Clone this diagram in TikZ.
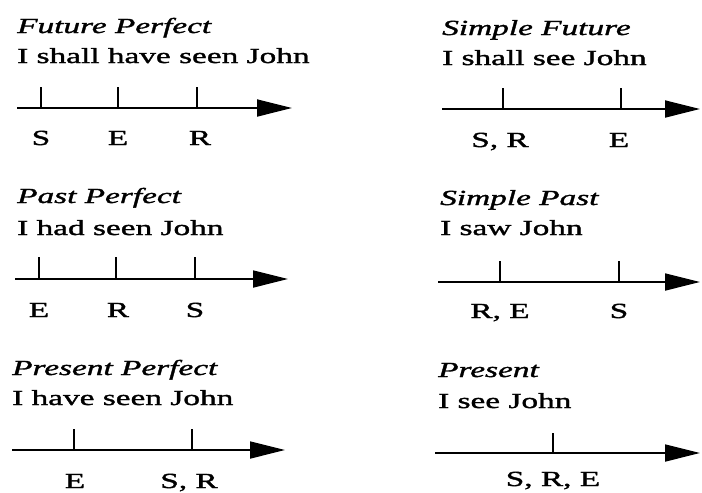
\documentclass[tikz,border=0pt]{standalone}
\usepackage{fontspec}
\setmainfont[FakeStretch=1.55,FakeBold=1.6]{Liberation Serif}
\usetikzlibrary{arrows.meta}
\tikzset{
  txt/.style={inner sep=0pt, anchor=base west, font=\fontsize{21.5}{26}\selectfont},
  ttl/.style={txt, font=\fontsize{21.5}{26}\selectfont\itshape},
  lbl/.style={inner sep=0pt, anchor=base, font=\fontsize{21.5}{26}\selectfont},
  axis/.style={line width=1.8pt, -{Triangle[length=35pt,width=17pt]}},
  tick/.style={line width=1.8pt}
}
\begin{document}
\begin{tikzpicture}[x=1pt,y=-1pt]
\useasboundingbox (0,0) rectangle (702,493);
% Panel 1: Future Perfect
\node[ttl] (t1) at (17,33) {Future Perfect};
\node[txt] (s1) at (17,63) {I shall have seen John};
\coordinate (a1s) at (17,108); \coordinate (a1e) at (292,108);
\draw[axis] (a1s) -- (a1e);
\coordinate (k1a) at (41,108); \coordinate (k1b) at (118,108); \coordinate (k1c) at (197,108);
\draw[tick] (k1a) -- ++(0,-21); \draw[tick] (k1b) -- ++(0,-21); \draw[tick] (k1c) -- ++(0,-21);
\node[lbl] (l1a) at (41,145) {S};
\node[lbl] (l1b) at (118,145) {E};
\node[lbl] (l1c) at (200,145) {R};
% Panel 2: Simple Future
\node[ttl] (t2) at (442,35) {Simple Future};
\node[txt] (s2) at (442,65) {I shall see John};
\coordinate (a2s) at (442,109); \coordinate (a2e) at (700,109);
\draw[axis] (a2s) -- (a2e);
\coordinate (k2a) at (503,109); \coordinate (k2b) at (621,109);
\draw[tick] (k2a) -- ++(0,-21); \draw[tick] (k2b) -- ++(0,-21);
\node[lbl] (l2a) at (500,147) {S, R};
\node[lbl] (l2b) at (619,147) {E};
% Panel 3: Past Perfect
\node[ttl] (t3) at (17,203) {Past Perfect};
\node[txt] (s3) at (17,235) {I had seen John};
\coordinate (a3s) at (15,279); \coordinate (a3e) at (288,279);
\draw[axis] (a3s) -- (a3e);
\coordinate (k3a) at (39,279); \coordinate (k3b) at (116,279); \coordinate (k3c) at (195,279);
\draw[tick] (k3a) -- ++(0,-22); \draw[tick] (k3b) -- ++(0,-22); \draw[tick] (k3c) -- ++(0,-22);
\node[lbl] (l3a) at (39,317) {E};
\node[lbl] (l3b) at (118,317) {R};
\node[lbl] (l3c) at (195,317) {S};
% Panel 4: Simple Past
\node[ttl] (t4) at (440,205) {Simple Past};
\node[txt] (s4) at (440,235) {I saw John};
\coordinate (a4s) at (438,282); \coordinate (a4e) at (700,282);
\draw[axis] (a4s) -- (a4e);
\coordinate (k4a) at (500,282); \coordinate (k4b) at (619,282);
\draw[tick] (k4a) -- ++(0,-21); \draw[tick] (k4b) -- ++(0,-21);
\node[lbl] (l4a) at (500,318) {R, E};
\node[lbl] (l4b) at (619,318) {S};
% Panel 5: Present Perfect
\node[ttl] (t5) at (12,375) {Present Perfect};
\node[txt] (s5) at (12,405) {I have seen John};
\coordinate (a5s) at (12,450); \coordinate (a5e) at (285,450);
\draw[axis] (a5s) -- (a5e);
\coordinate (k5a) at (74,450); \coordinate (k5b) at (192,450);
\draw[tick] (k5a) -- ++(0,-21); \draw[tick] (k5b) -- ++(0,-21);
\node[lbl] (l5a) at (75,488) {E};
\node[lbl] (l5b) at (189,488) {S, R};
% Panel 6: Present
\node[ttl] (t6) at (438,377) {Present};
\node[txt] (s6) at (438,408) {I see John};
\coordinate (a6s) at (435,453); \coordinate (a6e) at (700,453);
\draw[axis] (a6s) -- (a6e);
\coordinate (k6a) at (553,453);
\draw[tick] (k6a) -- ++(0,-20);
\node[lbl] (l6a) at (553,486) {S, R, E};
\end{tikzpicture}
\end{document}
